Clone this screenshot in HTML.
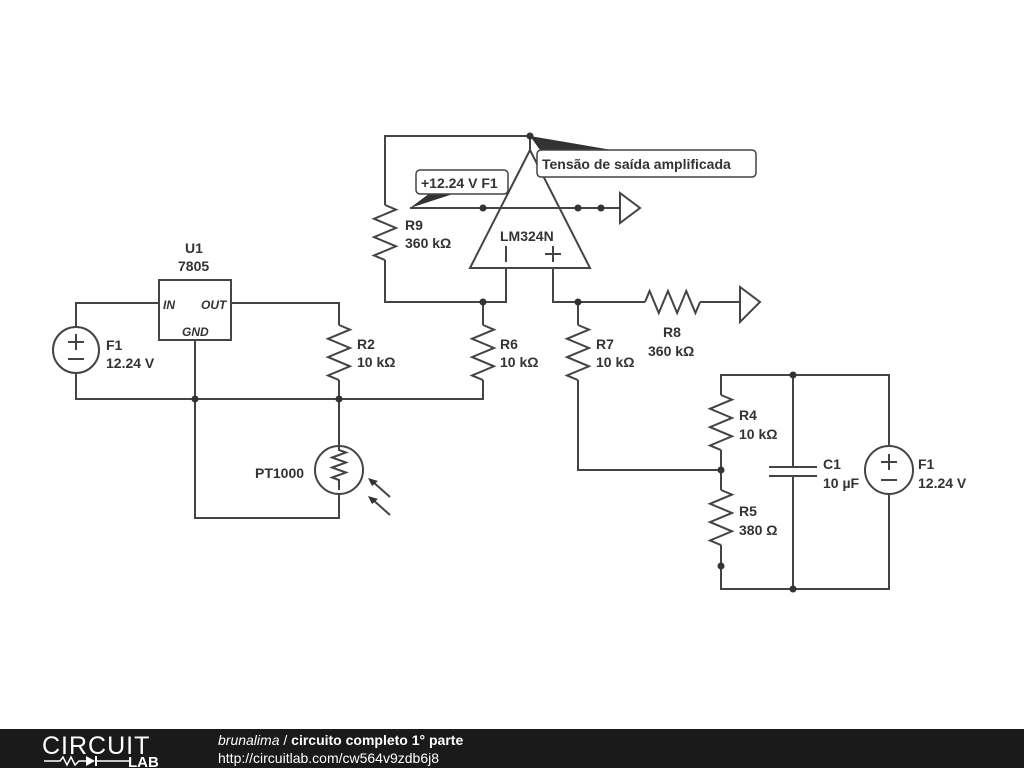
<!DOCTYPE html>
<html><head><meta charset="utf-8"><style>
html,body{margin:0;padding:0;background:#fff;width:1024px;height:768px;overflow:hidden}
svg{display:block}
text{font-family:"Liberation Sans",sans-serif;font-weight:bold;font-size:14px;fill:#333}
</style></head><body>
<svg width="1024" height="768" viewBox="0 0 1024 768">
<defs>
<path id="rv" d="m0,0 l11,4.6 l-22,9.17 l22,9.17 l-22,9.17 l22,9.17 l-22,9.17 l11,4.6" fill="none"/>
</defs>
<g stroke="#444" stroke-width="2" fill="none">
<polyline points="385,205 385,136 530,136 530,150"/>
<polyline points="385,260 385,302 506,302 506,268"/>
<polygon points="530,150 470,268 590,268" fill="#fff"/>
<line x1="410" y1="208" x2="620" y2="208"/>
<polygon points="620,193 620,223 640,208"/>
<line x1="506" y1="246" x2="506" y2="262"/>
<line x1="545" y1="254" x2="561" y2="254"/><line x1="553" y1="246" x2="553" y2="262"/>
<polyline points="553,268 553,302 645,302"/>
<polyline points="700,302 740,302"/>
<polygon points="740,287 740,322 760,302"/>
<use href="#rv" x="385" y="205"/>
<path d="M645,302 l4.6,-11 l9.17,22 l9.17,-22 l9.17,22 l9.17,-22 l9.17,22 l4.6,-11"/>
<line x1="483" y1="302" x2="483" y2="325"/><use href="#rv" x="483" y="325"/><polyline points="483,380 483,399 339,399"/>
<line x1="578" y1="302" x2="578" y2="325"/><use href="#rv" x="578" y="325"/><polyline points="578,380 578,470 721,470"/>
<rect x="159" y="280" width="72" height="60" fill="#fff"/>
<polyline points="159,303 76,303 76,327"/>
<polyline points="76,373 76,399 339,399"/>
<circle cx="76" cy="350" r="23"/>
<polyline points="231,303 339,303 339,325"/><use href="#rv" x="339" y="325"/><line x1="339" y1="380" x2="339" y2="446"/>
<polyline points="195,340 195,518 339,518 339,494"/>
<circle cx="339" cy="470" r="24"/>
<path d="M339,446 l0,4 l7,2.5 l-14,5 l14,5 l-14,5 l14,5 l-14,5 l7,2.5 l0,10" />
<line x1="390" y1="497" x2="372" y2="481"/><line x1="390" y1="515" x2="372" y2="499"/>
<polyline points="721,395 721,375 889,375 889,446"/>
<use href="#rv" x="721" y="395"/><line x1="721" y1="450" x2="721" y2="490"/>
<use href="#rv" x="721" y="490"/><polyline points="721,545 721,589 889,589 889,494"/>
<circle cx="889" cy="470" r="24"/>
<line x1="793" y1="375" x2="793" y2="467"/><line x1="793" y1="476" x2="793" y2="589"/>
<line x1="769" y1="467" x2="817" y2="467"/><line x1="769" y1="476" x2="817" y2="476"/>
<line x1="68" y1="342" x2="84" y2="342"/><line x1="76" y1="334" x2="76" y2="350"/><line x1="68" y1="359" x2="84" y2="359"/>
<line x1="881" y1="462" x2="897" y2="462"/><line x1="889" y1="454" x2="889" y2="470"/><line x1="881" y1="480" x2="897" y2="480"/>
</g>
<g fill="#333">
<polygon points="368,478 378,481 372,486"/><polygon points="368,496 378,499 372,504"/>
<circle cx="530" cy="136" r="3.5"/><circle cx="483" cy="208" r="3.5"/><circle cx="578" cy="208" r="3.5"/><circle cx="601" cy="208" r="3.5"/>
<circle cx="483" cy="302" r="3.5"/><circle cx="578" cy="302" r="3.5"/>
<circle cx="195" cy="399" r="3.5"/><circle cx="339" cy="399" r="3.5"/>
<circle cx="793" cy="375" r="3.5"/><circle cx="793" cy="589" r="3.5"/><circle cx="721" cy="470" r="3.5"/><circle cx="721" cy="566" r="3.5"/>
<polygon points="530,136 612,150 540,150"/>
<polygon points="410,208 430,193 456,193"/>
</g>
<rect x="537" y="150" width="219" height="27" rx="4" fill="#fff" stroke="#444" stroke-width="1.5"/>
<text x="542" y="169">Tensão de saída amplificada</text>
<rect x="416" y="170" width="92" height="24" rx="4" fill="#fff" stroke="#444" stroke-width="1.5"/>
<text x="421" y="188">+12.24 V F1</text>
<text x="405" y="230">R9</text><text x="405" y="248">360 kΩ</text>
<text x="500" y="241">LM324N</text>
<text x="185" y="253">U1</text><text x="178" y="271">7805</text>
<text x="163" y="309" style="font-style:italic;font-size:12px">IN</text>
<text x="201" y="309" style="font-style:italic;font-size:12px">OUT</text>
<text x="182" y="336" style="font-style:italic;font-size:12px">GND</text>
<text x="106" y="350">F1</text><text x="106" y="368">12.24 V</text>
<text x="357" y="349">R2</text><text x="357" y="367">10 kΩ</text>
<text x="500" y="349">R6</text><text x="500" y="367">10 kΩ</text>
<text x="596" y="349">R7</text><text x="596" y="367">10 kΩ</text>
<text x="663" y="337">R8</text><text x="648" y="356">360 kΩ</text>
<text x="255" y="478">PT1000</text>
<text x="739" y="420">R4</text><text x="739" y="439">10 kΩ</text>
<text x="739" y="516">R5</text><text x="739" y="535">380 Ω</text>
<text x="823" y="469">C1</text><text x="823" y="488">10 µF</text>
<text x="918" y="469">F1</text><text x="918" y="488">12.24 V</text>
<rect x="0" y="729" width="1024" height="39" fill="#1a1a1a"/>
<text x="42" y="754" style="font-weight:normal;font-size:25px;fill:#fff;letter-spacing:1px">CIRCUIT</text>
<polyline points="44,761 60,761 63,757 67,765 71,757 75,765 79,761 86,761" stroke="#fff" stroke-width="1.5" fill="none"/>
<polygon points="86,756 86,766 95,761" fill="#fff"/><line x1="96" y1="756" x2="96" y2="766" stroke="#fff" stroke-width="2"/>
<line x1="96" y1="761" x2="130" y2="761" stroke="#fff" stroke-width="1.5"/>
<text x="128" y="767" style="font-size:15px;fill:#fff;font-weight:900">LAB</text>
<text x="218" y="745" style="fill:#fff"><tspan style="font-weight:normal;font-style:italic">brunalima</tspan><tspan style="font-weight:normal"> / </tspan>circuito completo 1° parte</text>
<text x="218" y="763" style="font-weight:normal;fill:#fff">http://circuitlab.com/cw564v9zdb6j8</text>
</svg>
</body></html>
